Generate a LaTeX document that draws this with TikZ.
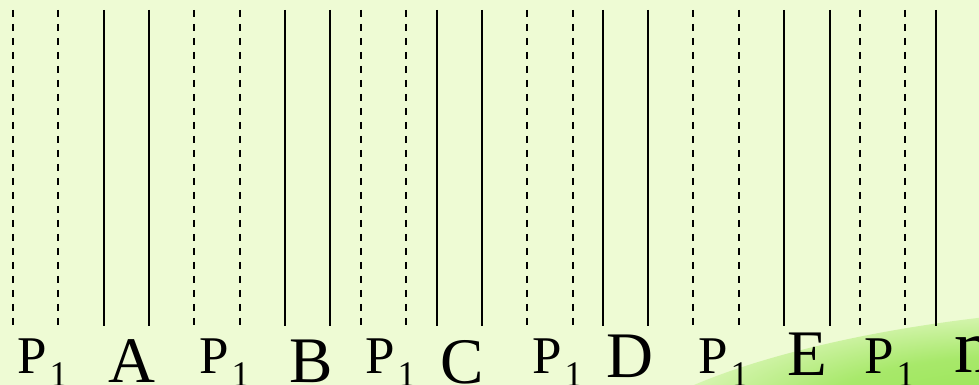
\documentclass[tikz,border=0pt]{standalone}
\usepackage{fontspec}
\setmainfont{Liberation Serif}
\definecolor{bg}{RGB}{238,251,212}
\definecolor{blob}{RGB}{150,228,80}
\pgfdeclareradialshading{blobsh}{\pgfpoint{0bp}{0bp}}{color(0bp)=(blob); color(12bp)=(blob!80!bg); color(20bp)=(blob!30!bg); color(25bp)=(bg); color(50bp)=(bg)}
\tikzset{
  dline/.style={line width=2pt, dash pattern=on 7pt off 7pt},
  sline/.style={line width=2pt},
  plab/.style={anchor=base west, inner sep=0pt, font=\fontsize{53}{53}\selectfont},
  big/.style={anchor=base west, inner sep=0pt, font=\fontsize{65}{65}\selectfont},
}
\newcommand{\psub}{P\hspace{3pt}\raisebox{-13pt}{\fontsize{36}{36}\selectfont 1}}
\begin{document}
\begin{tikzpicture}[x=1pt,y=1pt]
\useasboundingbox (0,0) rectangle (979,385);
\fill[bg] (0,0) rectangle (979,385);
\begin{scope}
\clip (0,0) rectangle (979,385);
\shade[shading=blobsh, rotate around={6:(1010,-30)}] (1010,-30) ellipse (400 and 100);
\end{scope}
% dashed lines
\foreach \x in {13,58,194,240,361,406,527,573,693,739,860,905}{
  \draw[dline] (\x,375) -- (\x,59);
}
% solid lines
\foreach \x in {104,149,285,330,437,482,603,648,784,830,936}{
  \draw[sline] (\x,375) -- (\x,59);
}
% labels
\node[plab] (p1) at (17,11) {\psub};
\node[plab] (p2) at (199,11) {\psub};
\node[plab] (p3) at (365,11) {\psub};
\node[plab] (p4) at (532,11) {\psub};
\node[plab] (p5) at (698,11) {\psub};
\node[plab] (p6) at (864,11) {\psub};
\node[big] (a) at (108,2) {A};
\node[big] (b) at (289,2) {B};
\node[big] (c) at (440,1) {C};
\node[big] (d) at (606,7) {D};
\node[big] (e) at (787,9) {E};
\node[anchor=base west, inner sep=0pt, font=\fontsize{76}{76}\selectfont] (m) at (954,12) {m};
\end{tikzpicture}
\end{document}
